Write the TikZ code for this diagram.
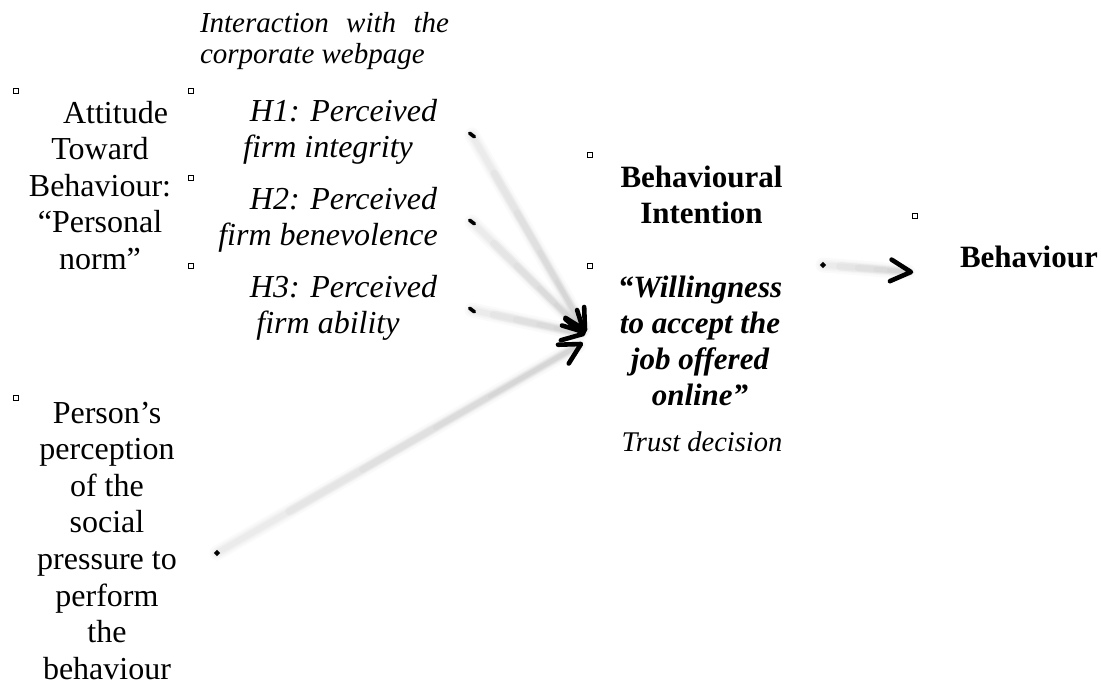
\documentclass[tikz,border=0pt]{standalone}
\usepackage{fontspec}
\setmainfont{Liberation Serif}
\usetikzlibrary{calc}
% a block of centred (or other) lines whose baseline is the first line's
\newcommand\stacklines[2][c]{\begin{tabular}[t]{@{}#1@{}}#2\end{tabular}}
% soft grey shaft, darkening towards its end, with a black open chevron
\newcommand\softlink[2]{%
  \foreach \w in {15,11,8,5.5} {\draw[haze, line width=\w pt, opacity=.018] (#1) -- (#2);}
  \foreach \f/\w in {.2/9,.4/7,.6/5,.75/4} {\draw[haze, line width=\w pt, opacity=.022] ($(#1)!\f!(#2)$) -- (#2);}
  \draw[chevron] ($(#2)!23pt!28:(#1)$) -- (#2) -- ($(#2)!23pt!-28:(#1)$);
}
\begin{document}
\begin{tikzpicture}[x=1pt, y=-1pt,
  every node/.style={inner sep=0pt, outer sep=0pt},
  txt/.style={anchor=base, font=\fontsize{32}{36.6}\selectfont},
  hyp/.style={anchor=base, font=\fontsize{32}{36.6}\selectfont\itshape},
  head/.style={anchor=base, font=\fontsize{31}{36}\selectfont\bfseries},
  bullet/.style={draw, line width=1.1pt, minimum size=5.5pt},
  startdash/.style={fill, minimum width=9pt, minimum height=3.6pt, rotate=-37, rounded corners=1.5pt},
  startdot/.style={fill, minimum size=4.4pt, rotate=45},
  haze/.style={draw=black, line cap=round, shorten >=3pt},
  chevron/.style={draw=black, line width=4.6pt, line cap=round, line join=round},
]
\useasboundingbox (0,0) rectangle (1101,686);

% ---- texts ----
\node[anchor=base west, font=\fontsize{29}{31}\selectfont\itshape] (web) at (200,32)
  {\stacklines[l]{\makebox[249pt][s]{Interaction with the}\\corporate webpage}};

\node[txt] (att) at (100,123)
  {\stacklines{\hspace*{31pt}Attitude\\Toward\\Behaviour:\\“Personal\\norm”}};

\node[hyp] (hone) at (328,121) {\stacklines{\hspace*{31pt}H1: Perceived\\firm integrity}};
\node[hyp] (htwo) at (328,209) {\stacklines{\hspace*{31pt}H2: Perceived\\firm benevolence}};
\node[hyp] (hthree) at (328,297) {\stacklines{\hspace*{31pt}H3: Perceived\\firm ability}};

\node[txt] (soc) at (107,423)
  {\stacklines{Person’s\\perception\\of the\\social\\pressure to\\perform\\the\\behaviour}};

\node[head] (bi) at (701.5,187) {\stacklines{Behavioural\\Intention}};
\node[head, font=\fontsize{31}{36}\selectfont\bfseries\itshape] (will) at (700,297)
  {\stacklines{“Willingness\\to accept the\\job offered\\online”}};
\node[anchor=base, font=\fontsize{28.5}{32}\selectfont\itshape] (trust) at (702,451) {Trust decision};
\node[head, anchor=base west] (beh) at (960,267) {Behaviour};

% ---- small square bullets ----
\node[bullet] (b1) at (16,91) {};
\node[bullet] (b2) at (191,91) {};
\node[bullet] (b3) at (191,178) {};
\node[bullet] (b4) at (191,266) {};
\node[bullet] (b5) at (16,398) {};
\node[bullet] (b6) at (590,155) {};
\node[bullet] (b7) at (590,266) {};
\node[bullet] (b8) at (915,216) {};

% ---- connector ends ----
\coordinate (h1s) at (472,135);
\coordinate (h2s) at (472,222);
\coordinate (h3s) at (472,310);
\coordinate (socs) at (217,553);
\coordinate (bis) at (823,265);
\coordinate (t1) at (585,330);
\coordinate (t2) at (584,332);
\coordinate (t3) at (583,334);
\coordinate (t4) at (581,344);
\coordinate (t5) at (911,272);

% ---- connectors ----
\softlink{h1s}{t1}
\softlink{h2s}{t2}
\softlink{h3s}{t3}
\softlink{socs}{t4}
\softlink{bis}{t5}

% ---- start marks ----
\node[startdash] (m1) at (h1s) {};
\node[startdash] (m2) at (h2s) {};
\node[startdash] (m3) at (h3s) {};
\node[startdot] (m4) at (socs) {};
\node[startdot] (m5) at (bis) {};
\end{tikzpicture}
\end{document}
